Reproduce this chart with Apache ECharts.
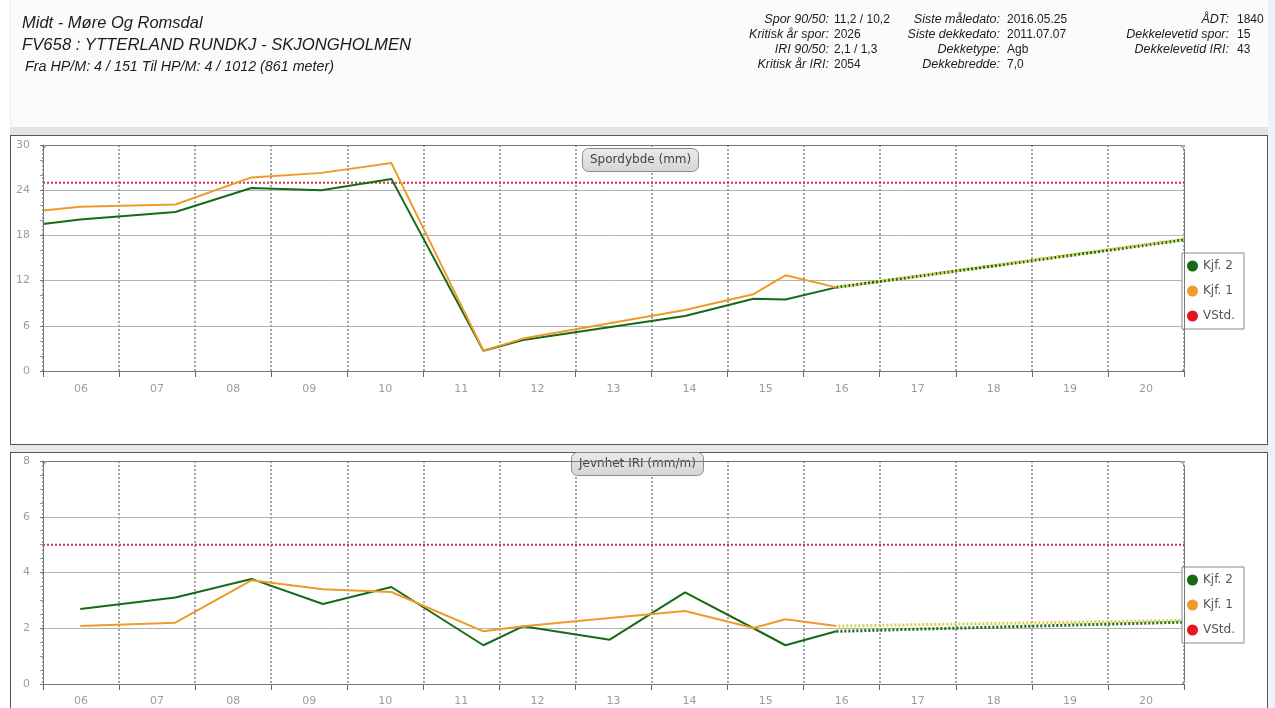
<!DOCTYPE html>
<html>
<head>
<meta charset="utf-8">
<title>FV658 Spordybde og IRI</title>
<script src="https://cdn.jsdelivr.net/npm/echarts@6/dist/echarts.min.js"></script>
<style>
  html, body { margin: 0; padding: 0; width: 1275px; height: 708px; overflow: hidden; background: #fff;
               font-family: "Liberation Sans", Arial, sans-serif; color: #1c1c1c; }
  .abs { position: absolute; }
  #hdr   { left: 10px; top: 0; width: 1258px; height: 127px; background: #fbfbfb; border-left: 1px solid #ececec; }
  #band  { left: 10px; top: 127px; width: 1258px; height: 8px; background: #e4e4e4; }
  #rstrip{ left: 1268px; top: 0; width: 7px; height: 708px; background: #eef1f5; }
  #gap   { left: 10px; top: 445px; width: 1258px; height: 7px; background: #e8e8e8; }
  #p1    { left: 10px; top: 135px; width: 1256px; height: 308px; border: 1px solid #555; background: #fff; }
  #p2    { left: 10px; top: 452px; width: 1256px; height: 300px; border: 1px solid #555; background: #fff; }
  #chart { left: 0; top: 0; width: 1275px; height: 708px; }
  .h1 { left: 22px; top: 13px; font-size: 16.5px; line-height: 18px; font-style: italic; white-space: nowrap; }
  .h2 { left: 22px; top: 36px; font-size: 16.7px; line-height: 18px; font-style: italic; white-space: nowrap; }
  .h3 { left: 25px; top: 58px; font-size: 14.3px; line-height: 16px; font-style: italic; white-space: nowrap; }
  .lab { font-size: 12.5px; line-height: 14px; font-style: italic; text-align: right; white-space: nowrap; }
  .val { font-size: 12px; line-height: 14px; white-space: nowrap; }
</style>
</head>
<body>
<div id="hdr" class="abs"></div>
<div id="band" class="abs"></div>
<div id="rstrip" class="abs"></div>
<div id="gap" class="abs"></div>
<div id="p1" class="abs"></div>
<div id="p2" class="abs"></div>
<div id="chart" class="abs"></div>
<script>
// ---- Header text ----
const headerLines = [
  'Midt - Møre Og Romsdal',
  'FV658 : YTTERLAND RUNDKJ - SKJONGHOLMEN',
  'Fra HP/M: 4 / 151 Til HP/M: 4 / 1012 (861 meter)'
];
const infoCol1 = [['Spor 90/50:', '11,2 / 10,2'], ['Kritisk år spor:', '2026'], ['IRI 90/50:', '2,1 / 1,3'], ['Kritisk år IRI:', '2054']];
const infoCol2 = [['Siste måledato:', '2016.05.25'], ['Siste dekkedato:', '2011.07.07'], ['Dekketype:', 'Agb'], ['Dekkebredde:', '7,0']];
const infoCol3 = [['ÅDT:', '1840'], ['Dekkelevetid spor:', '15'], ['Dekkelevetid IRI:', '43']];

// ---- Axis labels ----
const yearLabels = ['06', '07', '08', '09', '10', '11', '12', '13', '14', '15', '16', '17', '18', '19', '20'];

// ---- Spordybde (mm) ----
const sporYears = [2006.0, 2006.49, 2007.74, 2008.74, 2009.66, 2010.58, 2011.79, 2012.31, 2014.44, 2015.34, 2015.76, 2016.43];
const sporKjf2  = [19.5, 20.1, 21.1, 24.3, 24.0, 25.5, 2.7, 4.1, 7.3, 9.6, 9.5, 11.1];
const sporKjf1  = [21.3, 21.8, 22.1, 25.7, 26.3, 27.6, 2.7, 4.3, 8.1, 10.2, 12.7, 11.1];
const sporTrendYears = [2016.43, 2021.0];
const sporTrendKjf2  = [11.1, 17.4];
const sporTrendKjf1  = [11.1, 17.5];
const sporLimit = 25;

// ---- Jevnhet IRI (mm/m) ----
const iriYears = [2006.49, 2007.74, 2008.74, 2009.68, 2010.58, 2011.79, 2012.31, 2013.45, 2014.44, 2015.34, 2015.76, 2016.43];
const iriKjf2  = [2.69, 3.10, 3.77, 2.87, 3.48, 1.39, 2.07, 1.59, 3.29, 2.00, 1.39, 1.89];
const iriKjf1  = [2.08, 2.20, 3.72, 3.40, 3.30, 1.89, 2.07, 2.37, 2.62, 2.01, 2.32, 2.08];
const iriTrendYears = [2016.43, 2021.0];
const iriTrendKjf2  = [1.89, 2.22];
const iriTrendKjf1  = [2.08, 2.28];
const iriLimit = 5;

// ---- Header DOM ----
(function buildHeader() {
  const body = document.body;
  ['h1', 'h2', 'h3'].forEach((cls, i) => {
    const d = document.createElement('div');
    d.className = 'abs ' + cls;
    d.textContent = headerLines[i];
    body.appendChild(d);
  });
  const rowTops = [12, 27, 42, 57];
  const cols = [[infoCol1, 829, 834], [infoCol2, 1000, 1007], [infoCol3, 1229, 1237]];
  cols.forEach(([rows, labRight, valLeft]) => {
    rows.forEach((r, i) => {
      const l = document.createElement('div');
      l.className = 'abs lab';
      l.style.right = (1275 - labRight) + 'px';
      l.style.top = rowTops[i] + 'px';
      l.textContent = r[0];
      body.appendChild(l);
      const v = document.createElement('div');
      v.className = 'abs val';
      v.style.left = valLeft + 'px';
      v.style.top = rowTops[i] + 'px';
      v.textContent = r[1];
      body.appendChild(v);
    });
  });
})();

// ---- Chart ----
const GREEN = '#176b17';
const ORANGE = '#f09a2a';
const LIMIT = '#d03048';
const YELLOW = '#dccf4a';
const FONT = 'DejaVu Sans';

const pairs = (xs, ys) => xs.map((x, i) => [x, ys[i]]);
const flat = (v) => [[2006, v], [2021, v]];

const grids = [
  { left: 43, top: 145, width: 1141, height: 226 },
  { left: 43, top: 461, width: 1141, height: 223 }
];

function timeAxis(gi) {
  return {
    type: 'value', gridIndex: gi, min: 2006, max: 2021, interval: 1,
    axisLabel: { show: false },
    axisLine: { onZero: false, lineStyle: { color: '#666', width: 1 } },
    axisTick: { length: 6, lineStyle: { color: '#666' } },
    splitLine: { show: true, lineStyle: { color: '#a4a4a4', width: 2, type: [2, 2] } }
  };
}
function yearAxis(gi, margin) {
  return {
    type: 'category', gridIndex: gi, data: yearLabels, position: 'bottom', boundaryGap: true,
    axisLine: { show: false }, axisTick: { show: false }, splitLine: { show: false },
    axisLabel: { color: '#9c9c9c', fontSize: 11, fontFamily: FONT, margin: margin }
  };
}
function valueAxis(gi, max, interval, minorSplit) {
  return {
    type: 'value', gridIndex: gi, min: 0, max: max, interval: interval,
    axisLine: { show: true, lineStyle: { color: '#666' } },
    axisTick: { show: true, length: 3, lineStyle: { color: '#777' } },
    minorTick: { show: true, splitNumber: minorSplit, length: 3, lineStyle: { color: '#999' } },
    splitLine: { show: true, lineStyle: { color: '#b3b3b3', width: 1 } },
    axisLabel: { color: '#9c9c9c', fontSize: 11, fontFamily: FONT, margin: 13 }
  };
}
function lineSeries(name, xi, yi, data, color, width) {
  return {
    name, type: 'line', xAxisIndex: xi, yAxisIndex: yi, data, symbol: 'none',
    lineStyle: { color, width: width || 2 }, itemStyle: { color }, z: 4
  };
}
function dottedSeries(name, xi, yi, data, color, offset) {
  return {
    name, type: 'line', xAxisIndex: xi, yAxisIndex: yi, data, symbol: 'none',
    lineStyle: { color, width: 3, type: [2, 2], dashOffset: offset || 0 }, itemStyle: { color }, z: 3
  };
}
function limitSeries(xi, yi, v) {
  return {
    name: 'VStd.', type: 'line', xAxisIndex: xi, yAxisIndex: yi, data: flat(v), symbol: 'none',
    lineStyle: { color: LIMIT, width: 2, type: [2, 2] }, itemStyle: { color: '#e8141c' }, z: 2
  };
}
function legendAt(top) {
  return {
    data: ['Kjf. 2', 'Kjf. 1', 'VStd.'], orient: 'vertical', left: 1182, top: top,
    icon: 'circle', itemWidth: 11, itemHeight: 11, itemGap: 13,
    padding: [7, 9, 7, 5], backgroundColor: '#fff', borderColor: '#888', borderWidth: 1,
    textStyle: { color: '#555', fontSize: 12, fontFamily: FONT }
  };
}
function panelTitle(text, left, top) {
  return {
    text, left, top, padding: [6, 8, 6, 8],
    backgroundColor: {
      type: 'linear', x: 0, y: 0, x2: 0, y2: 1,
      colorStops: [{ offset: 0, color: '#ebebeb' }, { offset: 1, color: '#d5d5d5' }]
    },
    borderColor: '#8c8c8c', borderWidth: 1, borderRadius: 6,
    textStyle: { fontSize: 12, fontWeight: 'normal', color: '#444', fontFamily: FONT }
  };
}
function frame(g) {
  return {
    type: 'rect', z: 50, silent: true,
    shape: { x: g.left + 0.5, y: g.top + 0.5, width: g.width, height: g.height, r: [4, 6, 4, 0] },
    style: { fill: null, stroke: '#777', lineWidth: 1 }
  };
}

const option = {
  animation: false,
  backgroundColor: 'transparent',
  grid: grids,
  title: [panelTitle('Spordybde (mm)', 582, 148), panelTitle('Jevnhet IRI (mm/m)', 571, 452)],
  legend: [legendAt(253), legendAt(567)],
  xAxis: [timeAxis(0), yearAxis(0, 13), timeAxis(1), yearAxis(1, 12)],
  yAxis: [valueAxis(0, 30, 6, 3), valueAxis(1, 8, 2, 4)],
  graphic: [frame(grids[0]), frame(grids[1])],
  series: [
    limitSeries(0, 0, sporLimit),
    dottedSeries('Kjf. 2 prognose', 0, 0, pairs(sporTrendYears, sporTrendKjf2), GREEN, 0),
    dottedSeries('Kjf. 1 prognose', 0, 0, pairs(sporTrendYears, sporTrendKjf1), YELLOW, 2),
    lineSeries('Kjf. 2', 0, 0, pairs(sporYears, sporKjf2), GREEN),
    lineSeries('Kjf. 1', 0, 0, pairs(sporYears, sporKjf1), ORANGE),

    limitSeries(2, 1, iriLimit),
    dottedSeries('Kjf. 2 prognose', 2, 1, pairs(iriTrendYears, iriTrendKjf2), GREEN, 0),
    dottedSeries('Kjf. 1 prognose', 2, 1, pairs(iriTrendYears, iriTrendKjf1), YELLOW, 2),
    lineSeries('Kjf. 2', 2, 1, pairs(iriYears, iriKjf2), GREEN),
    lineSeries('Kjf. 1', 2, 1, pairs(iriYears, iriKjf1), ORANGE)
  ]
};

const chart = echarts.init(document.getElementById('chart'), null, { renderer: 'canvas' });
chart.setOption(option);
</script>
</body>
</html>
